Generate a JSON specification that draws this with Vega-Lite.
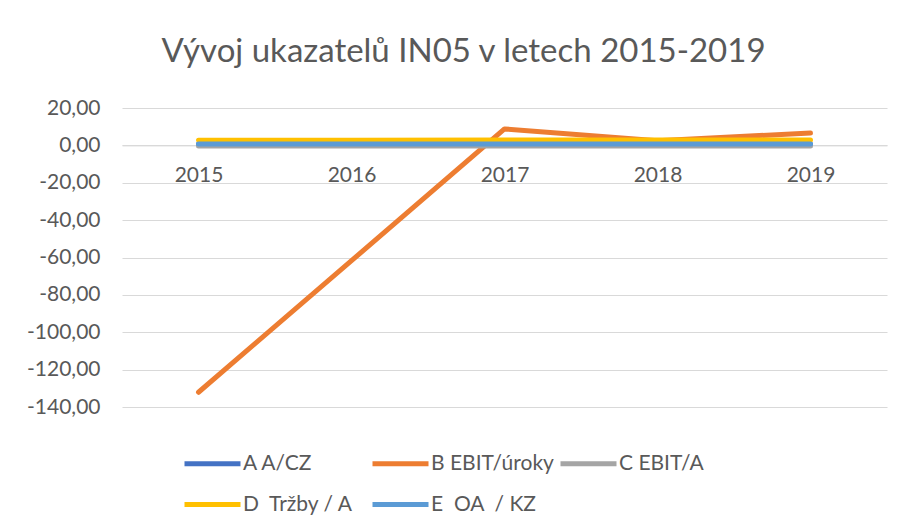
{
  "$schema": "https://vega.github.io/schema/vega-lite/v6.json",
  "width": 765,
  "height": 299,
  "autosize": {"type": "none"},
  "padding": {"left": 122, "top": 108, "right": 16, "bottom": 125},
  "background": "white",
  "config": {
    "locale": {"number": {"decimal": ",", "thousands": " ", "grouping": [3], "currency": ["", " Kč"], "minus": "-"}},
    "view": {"stroke": null},
    "font": "Lato"
  },
  "title": {
    "text": "Vývoj ukazatelů IN05 v letech 2015-2019",
    "fontSize": 33,
    "fontWeight": "normal",
    "color": "#595959",
    "font": "Lato",
    "anchor": "middle",
    "dx": -41,
    "dy": 38,
    "offset": 40,
    "baseline": "alphabetic"
  },
  "data": {
    "values": [
      {"rok": "2015", "ukazatel": "A A/CZ", "hodnota": 0.8},
      {"rok": "2016", "ukazatel": "A A/CZ", "hodnota": 0.8},
      {"rok": "2017", "ukazatel": "A A/CZ", "hodnota": 0.8},
      {"rok": "2018", "ukazatel": "A A/CZ", "hodnota": 0.8},
      {"rok": "2019", "ukazatel": "A A/CZ", "hodnota": 0.8},
      {"rok": "2015", "ukazatel": "B EBIT/úroky", "hodnota": -132.1},
      {"rok": "2016", "ukazatel": "B EBIT/úroky", "hodnota": -61.7},
      {"rok": "2017", "ukazatel": "B EBIT/úroky", "hodnota": 8.8},
      {"rok": "2018", "ukazatel": "B EBIT/úroky", "hodnota": 2.5},
      {"rok": "2019", "ukazatel": "B EBIT/úroky", "hodnota": 6.6},
      {"rok": "2015", "ukazatel": "C EBIT/A", "hodnota": -0.3},
      {"rok": "2016", "ukazatel": "C EBIT/A", "hodnota": -0.3},
      {"rok": "2017", "ukazatel": "C EBIT/A", "hodnota": -0.3},
      {"rok": "2018", "ukazatel": "C EBIT/A", "hodnota": -0.3},
      {"rok": "2019", "ukazatel": "C EBIT/A", "hodnota": -0.3},
      {"rok": "2015", "ukazatel": "D\u00a0 Tržby / A", "hodnota": 2.7},
      {"rok": "2016", "ukazatel": "D\u00a0 Tržby / A", "hodnota": 2.8},
      {"rok": "2017", "ukazatel": "D\u00a0 Tržby / A", "hodnota": 2.9},
      {"rok": "2018", "ukazatel": "D\u00a0 Tržby / A", "hodnota": 2.9},
      {"rok": "2019", "ukazatel": "D\u00a0 Tržby / A", "hodnota": 2.9},
      {"rok": "2015", "ukazatel": "E\u00a0 OA\u00a0 / KZ", "hodnota": 0.8},
      {"rok": "2016", "ukazatel": "E\u00a0 OA\u00a0 / KZ", "hodnota": 0.8},
      {"rok": "2017", "ukazatel": "E\u00a0 OA\u00a0 / KZ", "hodnota": 0.8},
      {"rok": "2018", "ukazatel": "E\u00a0 OA\u00a0 / KZ", "hodnota": 0.8},
      {"rok": "2019", "ukazatel": "E\u00a0 OA\u00a0 / KZ", "hodnota": 0.8}
    ]
  },
  "mark": {"type": "line", "strokeWidth": 5, "strokeCap": "round", "strokeJoin": "round"},
  "encoding": {
    "x": {
      "field": "rok",
      "type": "ordinal",
      "sort": null,
      "axis": {
        "orient": "bottom",
        "offset": -261.6,
        "title": null,
        "labelAngle": 0,
        "ticks": false,
        "grid": false,
        "domainColor": "#D9D9D9",
        "domainWidth": 1,
        "labelFontSize": 21,
        "labelColor": "#595959",
        "labelFont": "Lato",
        "labelPadding": 19
      }
    },
    "y": {
      "field": "hodnota",
      "type": "quantitative",
      "scale": {"domain": [-140, 20], "nice": false, "zero": false},
      "axis": {
        "title": null,
        "values": [-140, -120, -100, -80, -60, -40, -20, 0, 20],
        "format": ".2f",
        "domain": false,
        "ticks": false,
        "gridColor": "#D9D9D9",
        "gridWidth": 1,
        "labelFontSize": 21,
        "labelColor": "#595959",
        "labelFont": "Lato",
        "labelPadding": 22
      }
    },
    "color": {
      "field": "ukazatel",
      "type": "nominal",
      "scale": {
        "domain": ["A A/CZ", "B EBIT/úroky", "C EBIT/A", "D\u00a0 Tržby / A", "E\u00a0 OA\u00a0 / KZ"],
        "range": ["#4472C4", "#ED7D31", "#A5A5A5", "#FFC000", "#5B9BD5"]
      },
      "legend": {
        "title": null,
        "orient": "none",
        "legendX": 60,
        "legendY": 325,
        "direction": "horizontal",
        "columns": 3,
        "gridAlign": "all",
        "columnPadding": -4,
        "rowPadding": -14,
        "symbolType": "stroke",
        "symbolSize": 3136,
        "symbolStrokeWidth": 5,
        "labelFontSize": 21,
        "labelColor": "#595959",
        "labelFont": "Lato",
        "labelOffset": 0,
        "labelLimit": 300
      }
    }
  }
}
